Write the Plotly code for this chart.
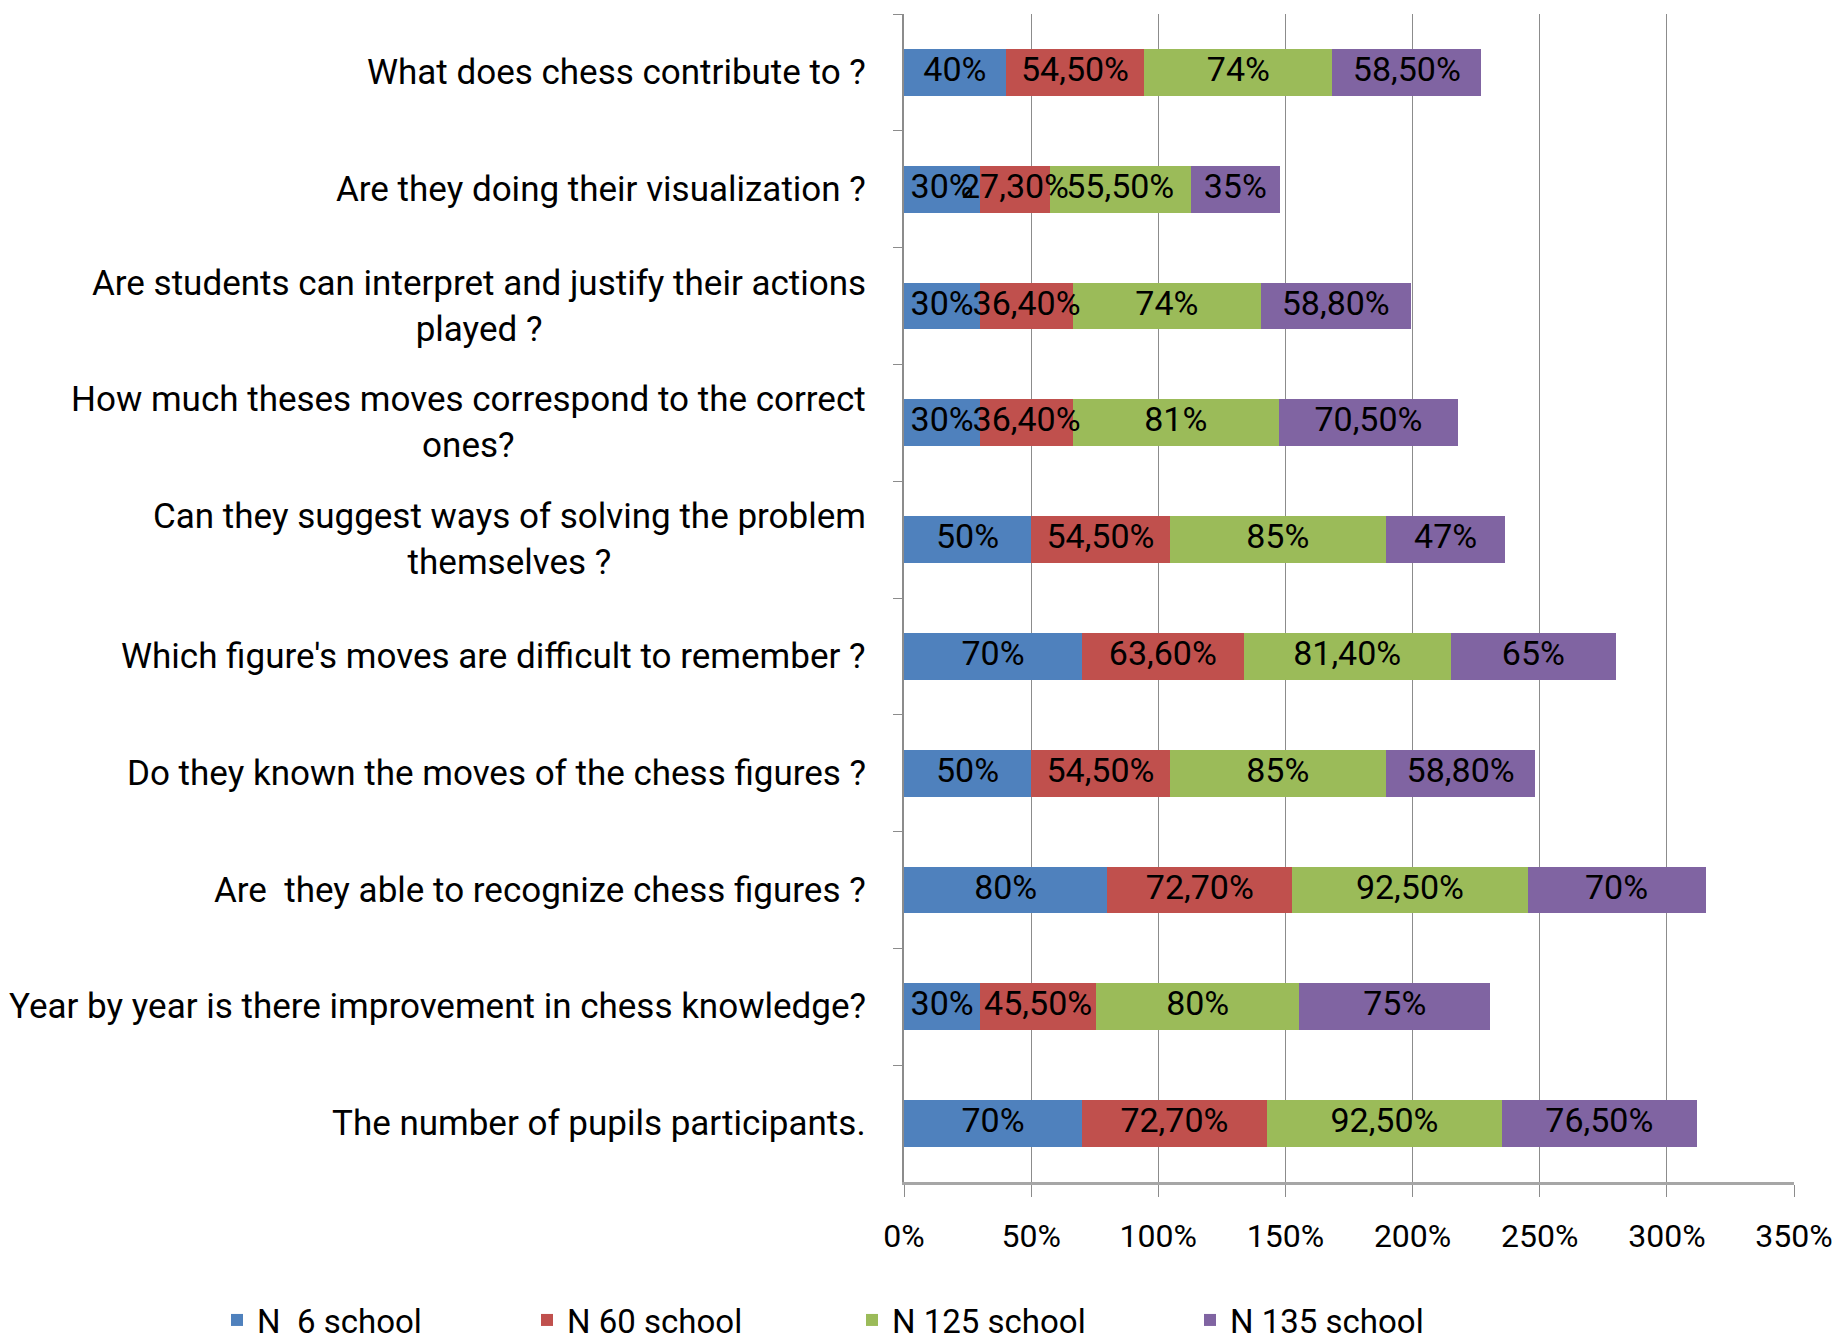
import plotly.graph_objects as go

categories = [
    "What does chess contribute to ?",
    "Are they doing their visualization ?",
    "Are students can interpret and justify their actions<br>played ?",
    "How much theses moves correspond to the correct<br>ones?",
    "Can they suggest ways of solving the problem<br>themselves ?",
    "Which figure's moves are difficult to remember ?",
    "Do they known the moves of the chess figures ?",
    "Are\u00a0 they able to recognize chess figures ?",
    "Year by year is there improvement in chess knowledge?",
    "The number of pupils participants.",
]
series_names = ["N\u00a0 6 school", "N 60 school", "N 125 school", "N 135 school"]
n6 = [40, 30, 30, 30, 50, 70, 50, 80, 30, 70]
n60 = [54.5, 27.3, 36.4, 36.4, 54.5, 63.6, 54.5, 72.7, 45.5, 72.7]
n125 = [74, 55.5, 74, 81, 85, 81.4, 85, 92.5, 80, 92.5]
n135 = [58.5, 35, 58.8, 70.5, 47, 65, 58.8, 70, 75, 76.5]
tick_values = [0, 50, 100, 150, 200, 250, 300, 350]
tick_labels = [f"{v}%" for v in tick_values]
colors = ["#4F81BD", "#C0504D", "#9BBB59", "#8064A2"]

FONT = "Roboto, Liberation Sans Narrow, sans-serif"
W, H = 1833, 1335  # page has an 8px body margin


def fmt(v):
    if float(v).is_integer():
        return f"{int(v)}%"
    return f"{v:.2f}".replace(".", ",") + "%"


fig = go.Figure()
all_series = [n6, n60, n125, n135]
legend_ids = ["legend", "legend2", "legend3", "legend4"]
for name, vals, col, lg in zip(series_names, all_series, colors, legend_ids):
    fig.add_trace(go.Bar(
        y=categories, x=vals, name=name, orientation="h",
        marker=dict(color=col, line=dict(width=0)),
        legend=lg, hoverinfo="x+name",
    ))

# data labels drawn on top of all bars (centered in each segment)
base = [0.0] * len(categories)
lab_x, lab_y, lab_t = [], [], []
for vals in all_series:
    for i, v in enumerate(vals):
        lab_x.append(base[i] + v / 2)
        lab_y.append(categories[i])
        lab_t.append(fmt(v))
        base[i] += v
fig.add_trace(go.Scatter(
    x=lab_x, y=lab_y, text=lab_t, mode="text", textposition="middle center",
    textfont=dict(size=34, color="black", family=FONT),
    showlegend=False, hoverinfo="skip",
))

for c in categories:
    fig.add_annotation(
        x=0, xref="paper", y=c, yref="y", text=c, showarrow=False,
        xanchor="right", yanchor="middle", align="center", xshift=-36,
        font=dict(size=35, color="black", family=FONT),
    )

leg_x = [209, 519, 844, 1182]
legend_common = dict(
    orientation="h", xref="container", yref="container",
    y=23 / H, xanchor="left", yanchor="middle",
    font=dict(size=33, family=FONT, color="black"),
    bgcolor="rgba(0,0,0,0)", itemwidth=30,
)
fig.update_layout(
    barmode="stack", bargap=0.6,
    width=W, height=H,
    margin=dict(l=896, r=47, t=6, b=161, autoexpand=False),
    paper_bgcolor="white", plot_bgcolor="white",
    font=dict(family=FONT, color="black", size=33),
    showlegend=True,
    legend=dict(x=leg_x[0] / W, **legend_common),
    legend2=dict(x=leg_x[1] / W, **legend_common),
    legend3=dict(x=leg_x[2] / W, **legend_common),
    legend4=dict(x=leg_x[3] / W, **legend_common),
)
fig.update_xaxes(
    range=[0, 350], tickvals=tick_values, ticktext=tick_labels,
    showgrid=True, gridcolor="#8C8C8C", gridwidth=1,
    showline=True, linecolor="#A6A6A6", linewidth=3,
    ticks="outside", ticklen=12, tickcolor="#8C8C8C",
    ticklabelstandoff=12, zeroline=False,
    tickfont=dict(size=32, family=FONT, color="black"),
)
fig.update_yaxes(
    autorange="reversed", showticklabels=False,
    showline=True, linecolor="#8C8C8C", linewidth=2,
    ticks="outside", tickson="boundaries", ticklen=9, tickcolor="#8C8C8C",
    showgrid=False,
)

fig.write_html("out.html")
